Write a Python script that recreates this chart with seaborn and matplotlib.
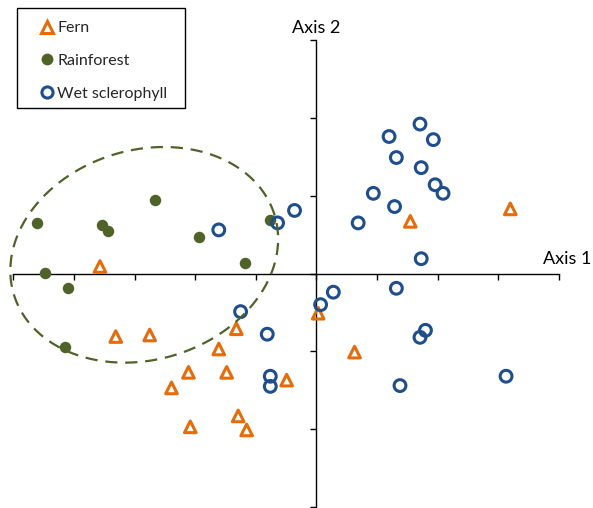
import numpy as np
import pandas as pd
import matplotlib
matplotlib.use("Agg")
import matplotlib.pyplot as plt
from matplotlib.lines import Line2D
from matplotlib.patches import Rectangle
import seaborn as sns

# ---- data (ordination scores) ----
fern_x = [-3.57, -3.31, -2.75, -1.61, -1.32, -2.11, -1.48, -2.39, -0.49, -1.29, -1.15, -2.08, 0.03, 0.63, 1.55, 3.20]
fern_y = [0.09, -0.81, -0.79, -0.97, -0.71, -1.27, -1.27, -1.47, -1.37, -1.83, -2.01, -1.97, -0.51, -1.01, 0.67, 0.83]

rain_x = [-4.61, -3.53, -3.43, -2.67, -1.93, -0.77, -1.17, -4.48, -4.10, -4.15]
rain_y = [0.65, 0.62, 0.55, 0.94, 0.47, 0.69, 0.14, 0.01, -0.18, -0.95]

wet_x = [1.71, 1.20, 1.93, 1.32, 1.73, 1.96, 2.09, 0.94, 1.29, 0.69, 1.73, -0.36, -0.64, -1.61,
         -1.25, -0.81, 0.28, 0.07, 1.32, 1.80, 1.71, 1.38, 3.13, -0.76, -0.76]
wet_y = [1.92, 1.76, 1.72, 1.49, 1.36, 1.14, 1.03, 1.03, 0.86, 0.65, 0.19, 0.81, 0.65, 0.56,
         -0.49, -0.78, -0.24, -0.40, -0.19, -0.73, -0.82, -1.44, -1.32, -1.32, -1.45]

groups = ["Fern", "Rainforest", "Wet sclerophyll"]
axis_labels = ["Axis 1", "Axis 2"]

df = pd.concat([
    pd.DataFrame({"x": fern_x, "y": fern_y, "group": "Fern"}),
    pd.DataFrame({"x": rain_x, "y": rain_y, "group": "Rainforest"}),
    pd.DataFrame({"x": wet_x, "y": wet_y, "group": "Wet sclerophyll"}),
], ignore_index=True)

ORANGE = "#E46C0A"
GREEN = "#4F6228"
BLUE = "#1F4E8C"

sns.set_style("white")
plt.rcParams["font.family"] = ["Lato", "DejaVu Sans"]

W, H = 593, 508
fig = plt.figure(figsize=(W / 100, H / 100), dpi=100)
# axes placed so that x in [-5, 4] spans px 13..559 and y in [-3, 3] spans px 507..40
ax = fig.add_axes([13.3 / W, 1 - 507 / H, (558.8 - 13.3) / W, (507 - 40) / H])
ax.set_xlim(-5, 4)
ax.set_ylim(-3, 3)

sns.scatterplot(data=df[df.group == "Fern"], x="x", y="y", ax=ax, marker="^",
                s=70, facecolor="none", edgecolor=ORANGE, linewidth=2.2, zorder=3, legend=False)
sns.scatterplot(data=df[df.group == "Rainforest"], x="x", y="y", ax=ax, marker="o",
                s=68, color=GREEN, edgecolor=GREEN, linewidth=0, zorder=3, legend=False)
sns.scatterplot(data=df[df.group == "Wet sclerophyll"], x="x", y="y", ax=ax, marker="o",
                s=72, facecolor="none", edgecolor=BLUE, linewidth=2.2, zorder=3, legend=False)

# dashed ellipse around the rainforest cluster (rotated in screen space)
px_x, px_y = 60.7, 78.0          # screen pixels per data unit
cx, cy = -2.84, 0.24
a_px, b_px, theta = 136.5, 105.0, np.deg2rad(17)
t = np.linspace(0, 2 * np.pi, 400)
ex = cx + (a_px * np.cos(t) * np.cos(theta) - b_px * np.sin(t) * np.sin(theta)) / px_x
ey = cy + (a_px * np.cos(t) * np.sin(theta) + b_px * np.sin(t) * np.cos(theta)) / px_y
ax.plot(ex, ey, color=GREEN, lw=1.6, ls=(0, (5.5, 3.5)), zorder=4, clip_on=False)

# axes through the origin
for side in ["top", "right"]:
    ax.spines[side].set_visible(False)
ax.spines["left"].set_position(("data", 0))
ax.spines["bottom"].set_position(("data", 0))
for side in ["left", "bottom"]:
    ax.spines[side].set_color("black")
    ax.spines[side].set_linewidth(1.0)
ax.set_xticks(np.arange(-5, 5, 1))
ax.set_yticks(np.arange(-3, 4, 1))
ax.tick_params(axis="both", which="major", direction="out", length=4, width=1,
               color="black", labelbottom=False, labelleft=False, bottom=True, left=True)
ax.set_xlabel("")
ax.set_ylabel("")
ax.set_facecolor("none")

ax.text(3.74, 0.19, axis_labels[0], ha="left", va="center", fontsize=13, color="black", clip_on=False)
ax.text(0, 3.15, axis_labels[1], ha="center", va="center", fontsize=13, color="black", clip_on=False)

# legend: frame drawn as a rectangle, entries via legend without its own frame
fig.patches.append(Rectangle((17 / W, 1 - 108 / H), (185 - 17) / W, (108 - 8) / H,
                             transform=fig.transFigure, facecolor="white", edgecolor="black",
                             linewidth=1.0, zorder=9))
handles = [
    Line2D([], [], ls="none", marker="^", markersize=8, markerfacecolor="none",
           markeredgecolor=ORANGE, markeredgewidth=2.2),
    Line2D([], [], ls="none", marker="o", markersize=8.5, markerfacecolor=GREEN,
           markeredgecolor=GREEN, markeredgewidth=0),
    Line2D([], [], ls="none", marker="o", markersize=8, markerfacecolor="none",
           markeredgecolor=BLUE, markeredgewidth=2.2),
]
leg = fig.legend(handles, groups, loc="upper left", bbox_to_anchor=(39 / W, 1 - 21 / H),
                 bbox_transform=fig.transFigure, frameon=False,
                 fontsize=11.5, labelspacing=1.16, handlelength=1.0,
                 handletextpad=0.15, borderpad=0, borderaxespad=0)
leg.set_zorder(10)

fig.savefig("out.png", dpi=100)
